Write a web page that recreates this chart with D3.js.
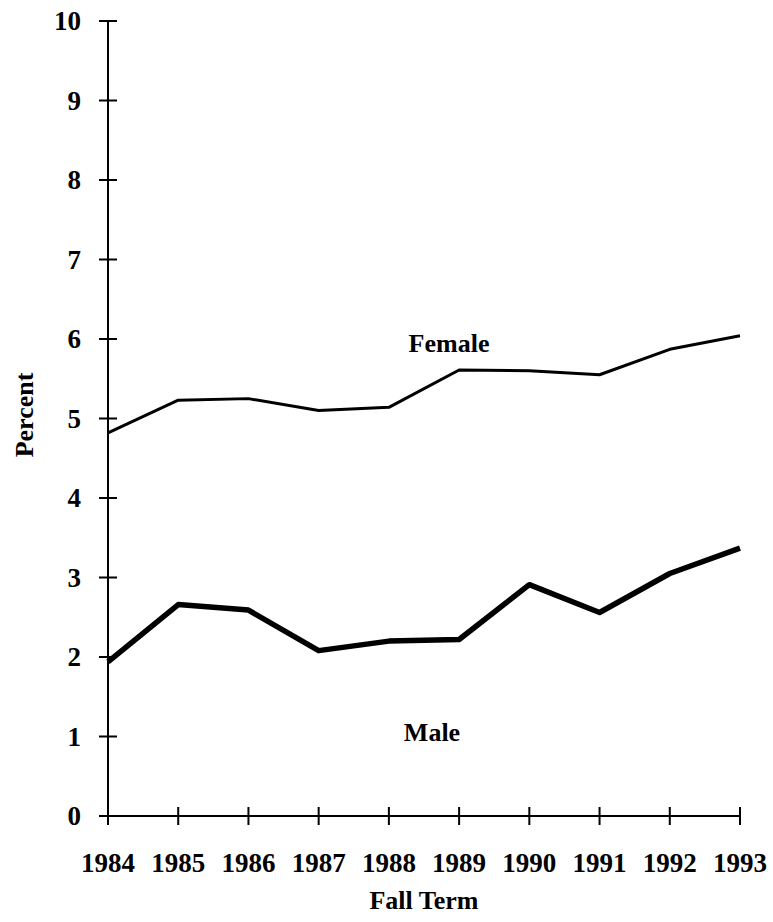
<!DOCTYPE html>
<html><head><meta charset="utf-8">
<script src="https://cdn.jsdelivr.net/npm/d3@7"></script>
<style>body{margin:0;background:#fff}svg{display:block}text{font-family:"Liberation Serif","Times New Roman",serif;font-weight:bold;fill:#000}</style>
</head><body>
<script>
const years = [1984,1985,1986,1987,1988,1989,1990,1991,1992,1993];
const female = [4.82,5.23,5.25,5.10,5.14,5.61,5.60,5.55,5.87,6.04];
const male = [1.94,2.66,2.59,2.08,2.20,2.22,2.91,2.56,3.05,3.37];
const yTicks = [0,1,2,3,4,5,6,7,8,9,10];

const W=773,H=922;
const svg=d3.select("body").append("svg").attr("width",W).attr("height",H);
const x=d3.scaleLinear().domain([1984,1993]).range([108,740]);
const y=d3.scaleLinear().domain([0,10]).range([816,21]);

// y axis
svg.append("line").attr("x1",x(1984)).attr("x2",x(1984)).attr("y1",y(0)).attr("y2",y(10)).attr("stroke","#000").attr("stroke-width",2);
svg.selectAll(".yt").data(yTicks).join("line").attr("x1",x(1984)-9).attr("x2",x(1984)+9)
  .attr("y1",d=>y(d)).attr("y2",d=>y(d)).attr("stroke","#000").attr("stroke-width",2);
svg.selectAll(".yl").data(yTicks).join("text").attr("x",81).attr("y",d=>y(d)).attr("dy","0.35em")
  .attr("text-anchor","end").style("font-size","27px").text(d=>d);

// x axis
svg.append("line").attr("x1",x(1984)).attr("x2",x(1993)).attr("y1",y(0)).attr("y2",y(0)).attr("stroke","#000").attr("stroke-width",2);
svg.selectAll(".xt").data(years).join("line").attr("x1",d=>x(d)).attr("x2",d=>x(d))
  .attr("y1",y(0)-9).attr("y2",y(0)+9).attr("stroke","#000").attr("stroke-width",2);
svg.selectAll(".xl").data(years).join("text").attr("x",d=>x(d)).attr("y",863).attr("dy","0.35em")
  .attr("text-anchor","middle").style("font-size","27px").text(d=>d);

svg.append("text").attr("x",424).attr("y",900).attr("dy","0.35em").attr("text-anchor","middle").style("font-size","26px").text("Fall Term");
svg.append("text").attr("transform","translate(24,415) rotate(-90)").attr("dy","0.35em").attr("text-anchor","middle").style("font-size","26px").text("Percent");

const line=d3.line().x((d,i)=>x(years[i])).y(d=>y(d));
svg.append("path").datum(female).attr("d",line).attr("fill","none").attr("stroke","#000").attr("stroke-width",3).attr("stroke-linejoin","round");
svg.append("path").datum(male).attr("d",line).attr("fill","none").attr("stroke","#000").attr("stroke-width",5.5).attr("stroke-linejoin","round");

svg.append("text").attr("x",449).attr("y",343).attr("dy","0.35em").attr("text-anchor","middle").style("font-size","26px").text("Female");
svg.append("text").attr("x",432).attr("y",732).attr("dy","0.35em").attr("text-anchor","middle").style("font-size","26px").text("Male");
</script>
</body></html>
